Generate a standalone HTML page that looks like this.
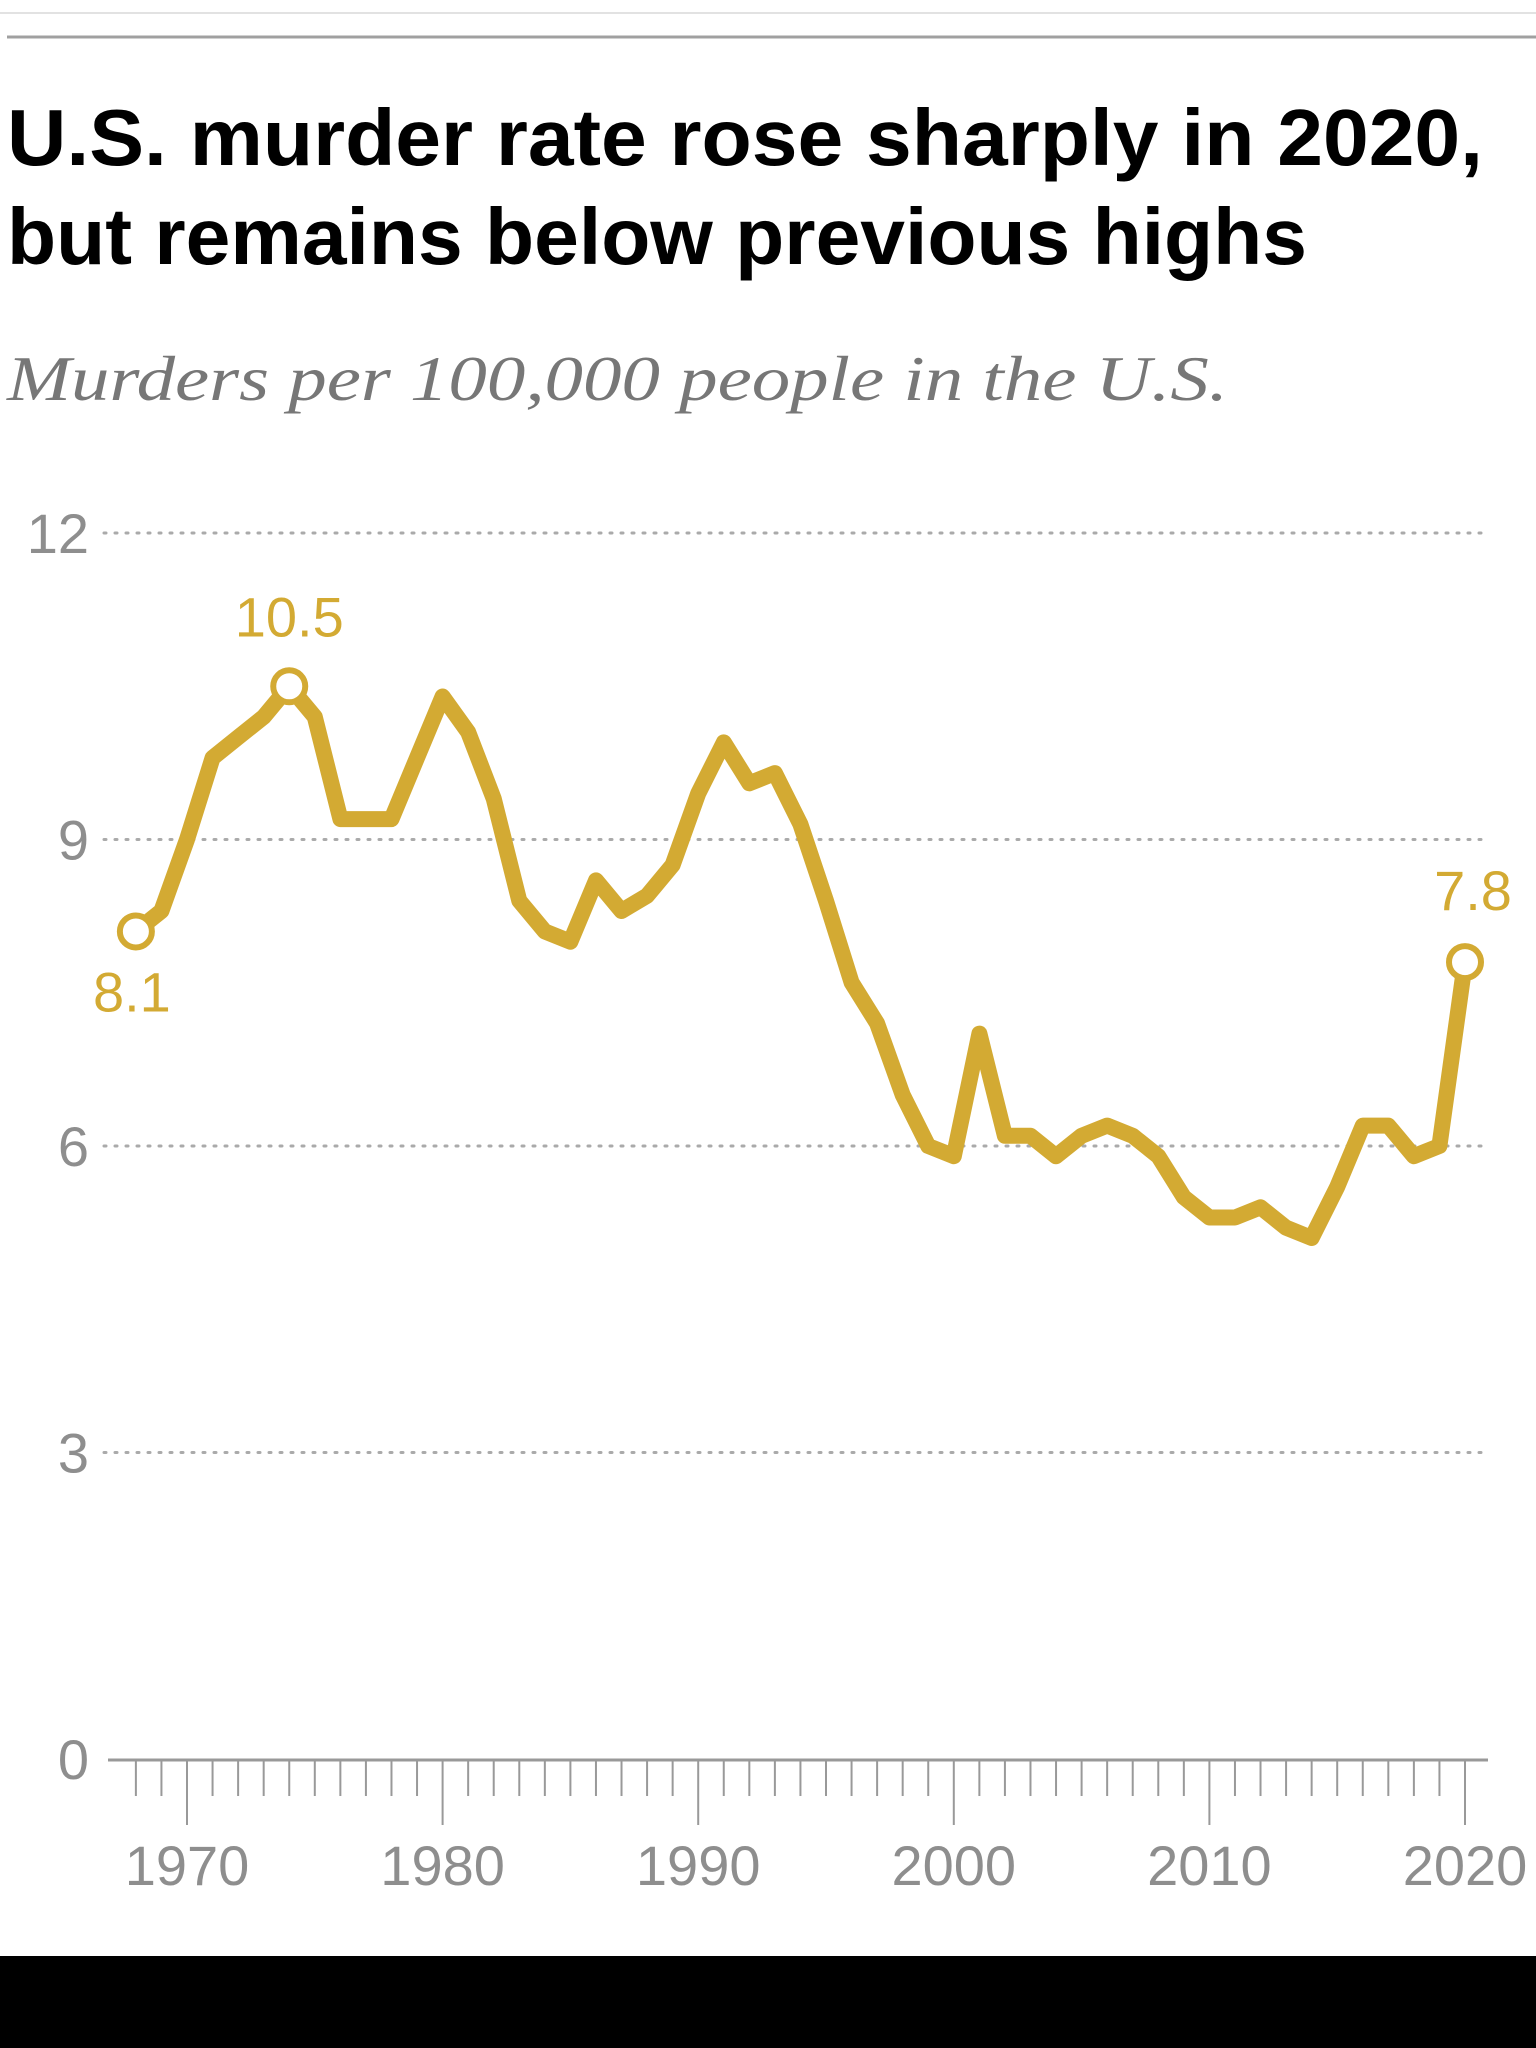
<!DOCTYPE html>
<html><head><meta charset="utf-8"><style>
html,body{margin:0;padding:0;background:#fff;width:1536px;height:2048px;overflow:hidden}
svg{display:block}
</style></head><body>
<svg id="chart" width="1536" height="2048" viewBox="0 0 1536 2048" xmlns="http://www.w3.org/2000/svg">
<rect width="1536" height="2048" fill="#fff"/>
<line x1="0" y1="13" x2="1536" y2="13" stroke="#e2e2e2" stroke-width="2"/>
<line x1="7" y1="37" x2="1536" y2="37" stroke="#a0a0a0" stroke-width="3"/>
<text x="7" y="165" font-family="Liberation Sans, sans-serif" font-weight="bold" font-size="80" fill="#000" textLength="1476" lengthAdjust="spacingAndGlyphs">U.S. murder rate rose sharply in 2020,</text>
<text x="7" y="264" font-family="Liberation Sans, sans-serif" font-weight="bold" font-size="80" fill="#000" textLength="1300" lengthAdjust="spacingAndGlyphs">but remains below previous highs</text>
<text x="7" y="400" font-family="Liberation Serif, serif" font-style="italic" font-size="64" fill="#777" textLength="1221" lengthAdjust="spacingAndGlyphs">Murders per 100,000 people in the U.S.</text>
<g id="grid"></g>
<g id="xaxis"></g>
<g id="series"></g>
<rect x="0" y="1956" width="1536" height="92" fill="#000"/>
</svg>
<script>
const years = [];
for (let y = 1968; y <= 2020; y++) years.push(y);
const rates = [8.1,8.3,9.0,9.8,10.0,10.2,10.5,10.2,9.2,9.2,9.2,9.8,10.4,10.05,9.4,8.4,8.1,8.0,8.6,8.3,8.45,8.75,9.45,9.95,9.55,9.65,9.15,8.4,7.6,7.2,6.5,6.0,5.9,7.1,6.1,6.1,5.9,6.1,6.2,6.1,5.9,5.5,5.3,5.3,5.4,5.2,5.1,5.6,6.2,6.2,5.9,6.0,7.8];
const yTicks = [0,3,6,9,12];
const xTickLabels = [1970,1980,1990,2000,2010,2020];
const annotated = [1968,1974,2020];

const NS = 'http://www.w3.org/2000/svg';
const xS = yr => 187 + (yr - 1970) * 25.56;
const yS = v => 1759 - v * (1759 - 533) / 12;
function mk(tag, attrs, parent, text) {
  const e = document.createElementNS(NS, tag);
  for (const k in attrs) e.setAttribute(k, attrs[k]);
  if (text !== undefined) e.textContent = text;
  parent.appendChild(e);
  return e;
}
const grid = document.getElementById('grid');
yTicks.forEach(t => {
  if (t > 0) {
    const l = mk('line', {x1:104, x2:1489, y1:yS(t), y2:yS(t), stroke:'#aaa', 'stroke-width':3, 'stroke-dasharray':'2 9', 'stroke-linecap':'round'}, grid);
    
    
  }
  const tx = mk('text', {x:89, y:yS(t) + 20, 'text-anchor':'end', 'font-family':'Liberation Sans, sans-serif', 'font-size':56, fill:'#8e8e8e'}, grid, String(t));
  
  
});
const xa = document.getElementById('xaxis');
const axis = mk('line', {x1:108, x2:1488, y1:1760, y2:1760, stroke:'#999', 'stroke-width':3}, xa);


years.forEach(yr => {
  const major = yr % 10 === 0;
  const t = mk('line', {x1:xS(yr), x2:xS(yr), y1:1760, y2:major ? 1825 : 1796, stroke:'#999', 'stroke-width':2}, xa);
  
  
});
xTickLabels.forEach(yr => {
  const t = mk('text', {x:xS(yr), y:1885, 'text-anchor':'middle', 'font-family':'Liberation Sans, sans-serif', 'font-size':56, fill:'#8e8e8e'}, xa, String(yr));
  
  
});
const s = document.getElementById('series');
const pts = years.map((yr, i) => xS(yr).toFixed(1) + ',' + yS(rates[i]).toFixed(1)).join(' ');
const pl = mk('polyline', {points:pts, fill:'none', stroke:'#d3aa33', 'stroke-width':16, 'stroke-linejoin':'round', 'stroke-linecap':'round'}, s);


annotated.forEach(yr => {
  const i = years.indexOf(yr);
  const cx = xS(yr), cy = yS(rates[i]);
  const c = mk('circle', {cx:cx, cy:cy, r:16, fill:'#fff', stroke:'#d3aa33', 'stroke-width':6}, s);
  
  
  let lx = cx, ly = cy - 50;
  if (yr === 1968) { lx = cx - 4; ly = cy + 80; }
  if (yr === 2020) { lx = cx + 8; ly = cy - 52; }
  const t = mk('text', {x:lx, y:ly, 'text-anchor':'middle', 'font-family':'Liberation Sans, sans-serif', 'font-size':56, fill:'#d3aa33'}, s, rates[i].toFixed(1));
  
  
});
</script>
</body></html>
